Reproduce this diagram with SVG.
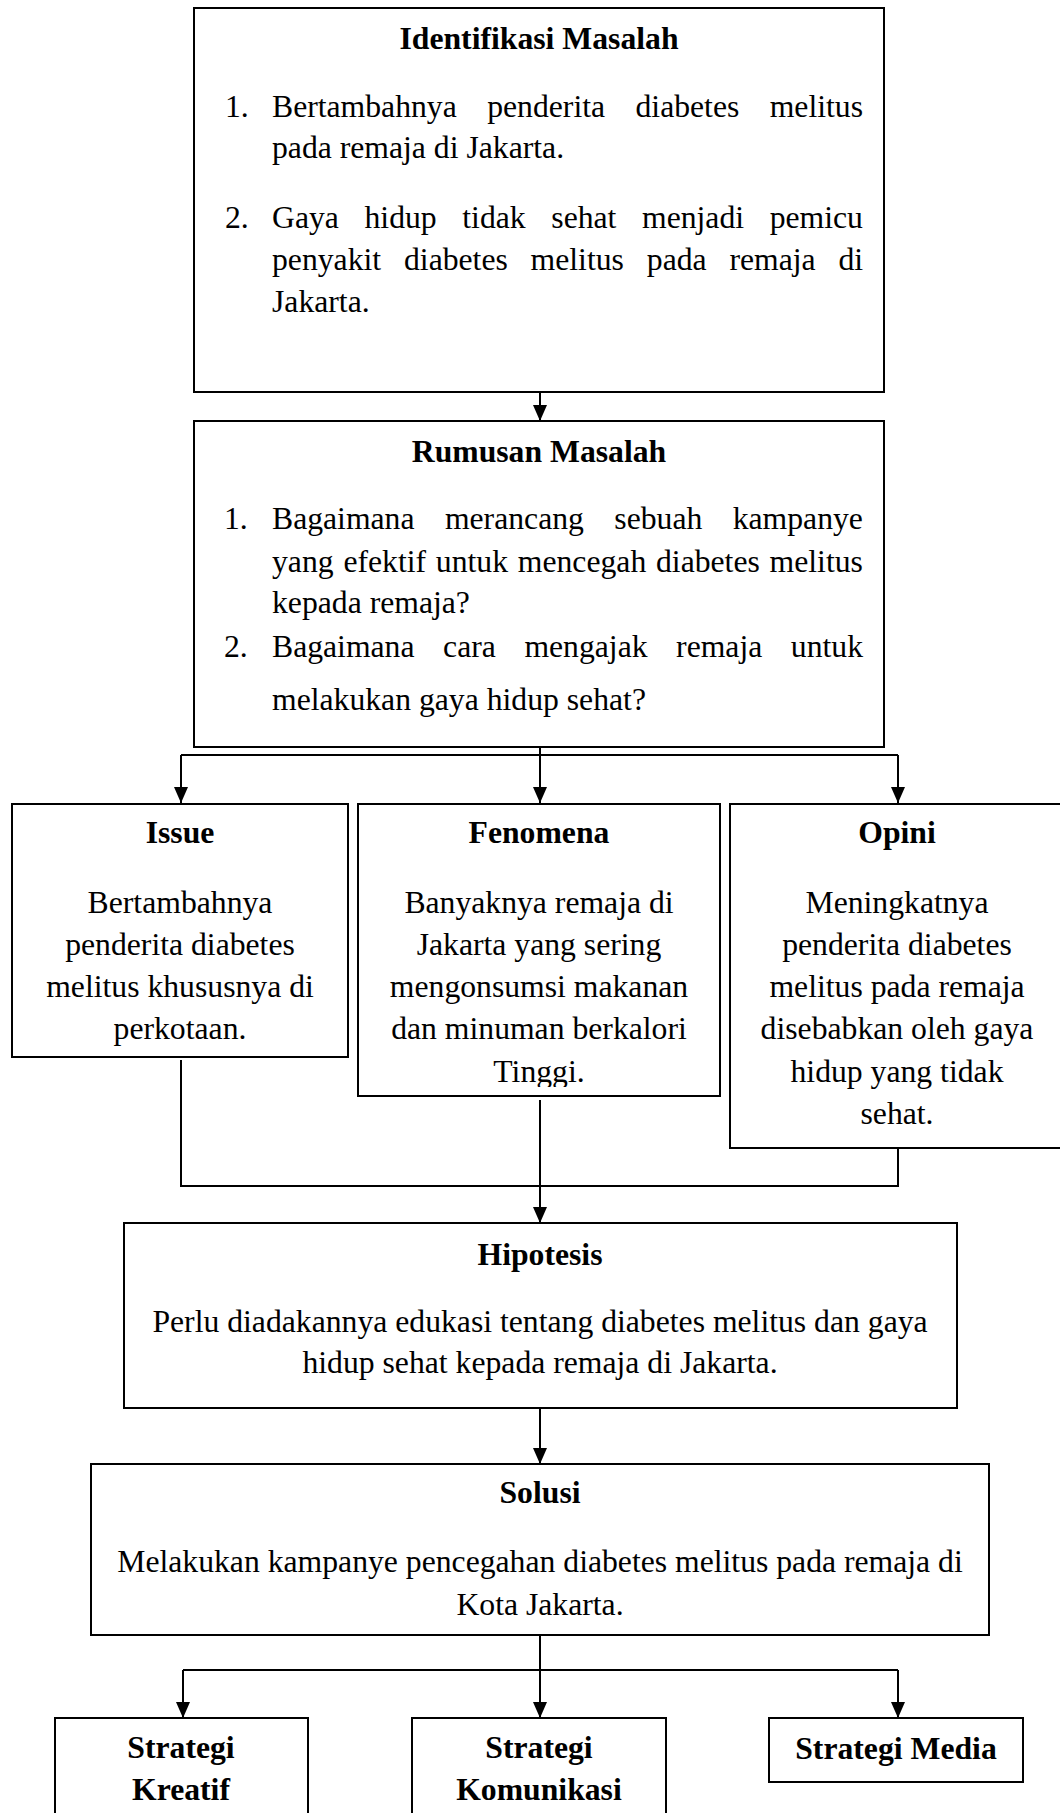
<svg xmlns="http://www.w3.org/2000/svg" width="1060" height="1813" viewBox="0 0 1060 1813">
<style>
.box{fill:#fff;stroke:#000;stroke-width:2}
.t{font-family:"Liberation Serif","Times New Roman",serif;font-size:31.7px;fill:#000}
.b{font-weight:bold}
.c{text-anchor:middle}
.ln{fill:none;stroke:#000;stroke-width:2}
</style>
<defs>
<marker id="ah" markerUnits="userSpaceOnUse" markerWidth="16" markerHeight="14" refX="16" refY="7" orient="auto" viewBox="0 0 16 14">
<path d="M0,0 L16,7 L0,14 z" fill="#000"/>
</marker>
<clipPath id="fclip"><rect x="358" y="800" width="362" height="287"/></clipPath>
</defs>
<rect width="1060" height="1813" fill="#fff"/>

<g id="connectors">
<line class="ln" x1="540" y1="392" x2="540" y2="421" marker-end="url(#ah)"/>
<line class="ln" x1="540" y1="747" x2="540" y2="755"/>
<line class="ln" x1="181" y1="755" x2="898" y2="755"/>
<line class="ln" x1="181" y1="755" x2="181" y2="803" marker-end="url(#ah)"/>
<line class="ln" x1="540" y1="755" x2="540" y2="803" marker-end="url(#ah)"/>
<line class="ln" x1="898" y1="755" x2="898" y2="803" marker-end="url(#ah)"/>
<line class="ln" x1="181" y1="1060" x2="181" y2="1186"/>
<line class="ln" x1="898" y1="1148" x2="898" y2="1186"/>
<line class="ln" x1="180" y1="1186" x2="899" y2="1186"/>
<line class="ln" x1="540" y1="1100" x2="540" y2="1223" marker-end="url(#ah)"/>
<line class="ln" x1="540" y1="1408" x2="540" y2="1464" marker-end="url(#ah)"/>
<line class="ln" x1="540" y1="1635" x2="540" y2="1670"/>
<line class="ln" x1="183" y1="1670" x2="898" y2="1670"/>
<line class="ln" x1="183" y1="1670" x2="183" y2="1718" marker-end="url(#ah)"/>
<line class="ln" x1="540" y1="1670" x2="540" y2="1718" marker-end="url(#ah)"/>
<line class="ln" x1="898" y1="1670" x2="898" y2="1718" marker-end="url(#ah)"/>
</g>

<g id="identifikasi">
<rect class="box" x="194" y="8" width="690" height="384"/>
<text class="t b c" x="539" y="49">Identifikasi Masalah</text>
<text class="t" x="225" y="117">1.</text>
<text class="t" y="117"><tspan x="272">Bertambahnya</tspan><tspan x="487.2">penderita</tspan><tspan x="635.5">diabetes</tspan><tspan x="769.7">melitus</tspan></text>
<text class="t" x="272" y="158">pada remaja di Jakarta.</text>
<text class="t" x="225" y="228">2.</text>
<text class="t" y="228"><tspan x="272">Gaya</tspan><tspan x="364.5">hidup</tspan><tspan x="462.3">tidak</tspan><tspan x="551.3">sehat</tspan><tspan x="642">menjadi</tspan><tspan x="769.7">pemicu</tspan></text>
<text class="t" y="270"><tspan x="272">penyakit</tspan><tspan x="404">diabetes</tspan><tspan x="530.6">melitus</tspan><tspan x="646.8">pada</tspan><tspan x="729.4">remaja</tspan><tspan x="838.5">di</tspan></text>
<text class="t" x="272" y="312">Jakarta.</text>
</g>

<g id="rumusan">
<rect class="box" x="194" y="421" width="690" height="326"/>
<text class="t b c" x="539" y="462">Rumusan Masalah</text>
<text class="t" x="224" y="529">1.</text>
<text class="t" y="529"><tspan x="272">Bagaimana</tspan><tspan x="444.9">merancang</tspan><tspan x="614.3">sebuah</tspan><tspan x="732.7">kampanye</tspan></text>
<text class="t" y="572"><tspan x="272">yang</tspan><tspan x="343.4">efektif</tspan><tspan x="435.8">untuk</tspan><tspan x="517.8">mencegah</tspan><tspan x="656">diabetes</tspan><tspan x="769.6">melitus</tspan></text>
<text class="t" x="272" y="613">kepada remaja?</text>
<text class="t" x="224" y="657">2.</text>
<text class="t" y="657"><tspan x="272">Bagaimana</tspan><tspan x="443.1">cara</tspan><tspan x="524.4">mengajak</tspan><tspan x="676.1">remaja</tspan><tspan x="790.8">untuk</tspan></text>
<text class="t" x="272" y="710">melakukan gaya hidup sehat?</text>
</g>

<g id="issue">
<rect class="box" x="12" y="804" width="336" height="253"/>
<text class="t b c" x="180" y="843">Issue</text>
<text class="t c" x="180" y="913">Bertambahnya</text>
<text class="t c" x="180" y="955">penderita diabetes</text>
<text class="t c" x="180" y="997">melitus khususnya di</text>
<text class="t c" x="180" y="1039">perkotaan.</text>
</g>

<g id="fenomena">
<rect class="box" x="358" y="804" width="362" height="292"/>
<text class="t b c" x="539" y="843">Fenomena</text>
<text class="t c" x="539" y="913">Banyaknya remaja di</text>
<text class="t c" x="539" y="955">Jakarta yang sering</text>
<text class="t c" x="539" y="997">mengonsumsi makanan</text>
<text class="t c" x="539" y="1039">dan minuman berkalori</text>
<text class="t c" x="539" y="1082" clip-path="url(#fclip)">Tinggi.</text>
</g>

<g id="opini">
<rect class="box" x="730" y="804" width="340" height="344"/>
<text class="t b c" x="897" y="843">Opini</text>
<text class="t c" x="897" y="913">Meningkatnya</text>
<text class="t c" x="897" y="955">penderita diabetes</text>
<text class="t c" x="897" y="997">melitus pada remaja</text>
<text class="t c" x="897" y="1039">disebabkan oleh gaya</text>
<text class="t c" x="897" y="1082">hidup yang tidak</text>
<text class="t c" x="897" y="1124">sehat.</text>
</g>

<g id="hipotesis">
<rect class="box" x="124" y="1223" width="833" height="185"/>
<text class="t b c" x="540" y="1265">Hipotesis</text>
<text class="t c" x="540" y="1332">Perlu diadakannya edukasi tentang diabetes melitus dan gaya</text>
<text class="t c" x="540" y="1373">hidup sehat kepada remaja di Jakarta.</text>
</g>

<g id="solusi">
<rect class="box" x="91" y="1464" width="898" height="171"/>
<text class="t b c" x="540" y="1503">Solusi</text>
<text class="t c" x="540" y="1572">Melakukan kampanye pencegahan diabetes melitus pada remaja di</text>
<text class="t c" x="540" y="1615">Kota Jakarta.</text>
</g>

<g id="strategi-kreatif">
<rect class="box" x="55" y="1718" width="253" height="120"/>
<text class="t b c" x="181" y="1758">Strategi</text>
<text class="t b c" x="181" y="1800">Kreatif</text>
</g>

<g id="strategi-komunikasi">
<rect class="box" x="412" y="1718" width="254" height="120"/>
<text class="t b c" x="539" y="1758">Strategi</text>
<text class="t b c" x="539" y="1800">Komunikasi</text>
</g>

<g id="strategi-media">
<rect class="box" x="769" y="1718" width="254" height="64"/>
<text class="t b c" x="896" y="1759">Strategi Media</text>
</g>
</svg>
